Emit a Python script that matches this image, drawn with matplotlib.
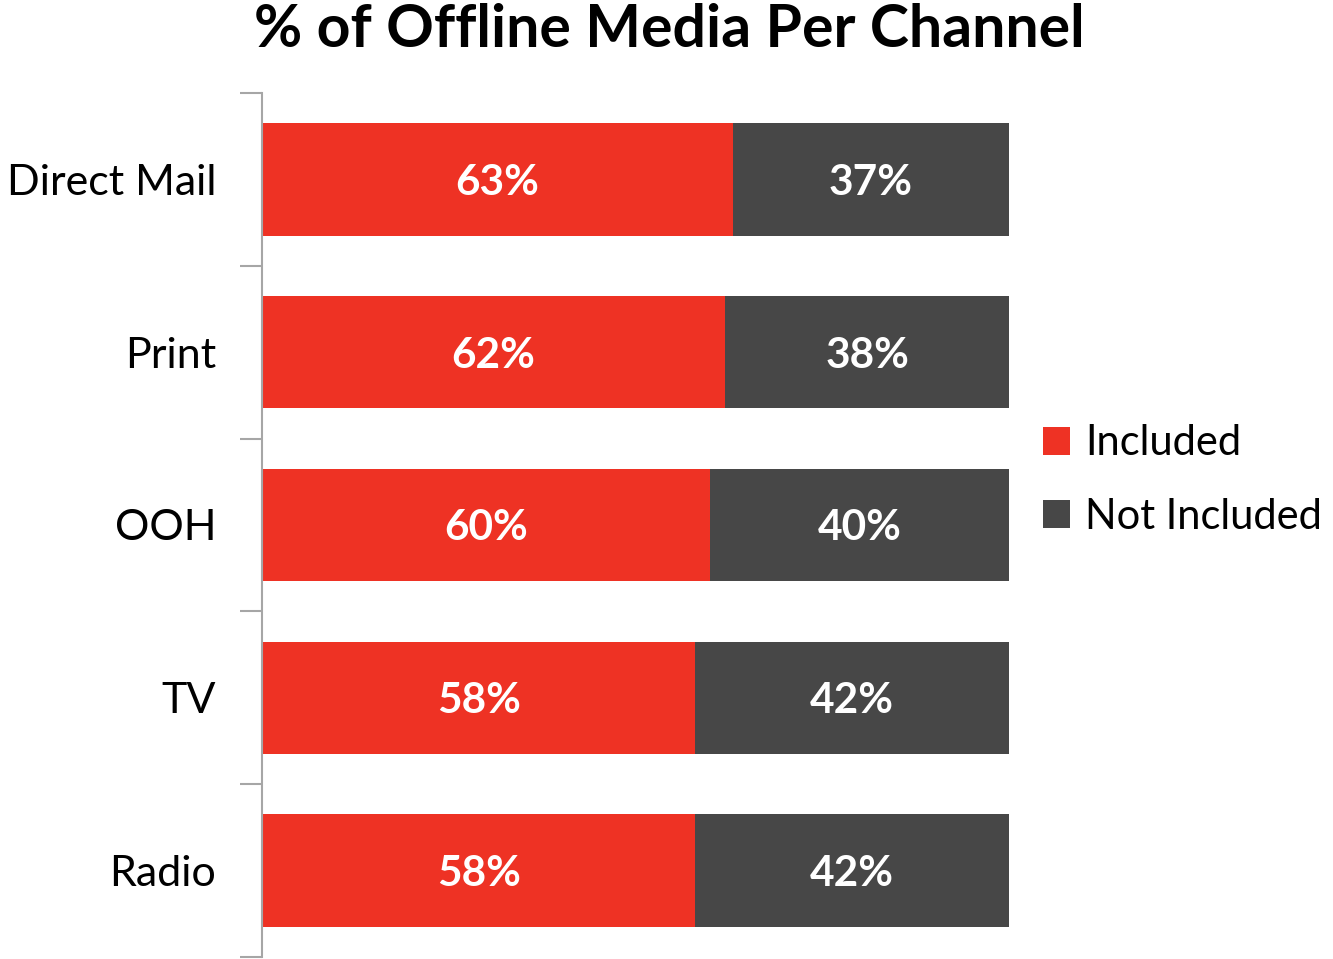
import matplotlib
matplotlib.use("Agg")
import matplotlib.pyplot as plt
from matplotlib.patches import Patch

plt.rcParams['font.family'] = ['Lato', 'DejaVu Sans']

channels = ["Direct Mail", "Print", "OOH", "TV", "Radio"]
included = [63, 62, 60, 58, 58]
not_included = [37, 38, 40, 42, 42]
series_names = ["Included", "Not Included"]

RED = "#EE3224"
DARK = "#474747"
SPINE = "#A6A6A6"

fig = plt.figure(figsize=(13.33, 9.59), dpi=100)
ax = fig.add_axes([262 / 1333, 2 / 959, 747 / 1333, 864 / 959])

y = list(range(len(channels)))
b1 = ax.barh(y, included, height=0.65, color=RED, label=series_names[0])
b2 = ax.barh(y, not_included, left=included, height=0.65, color=DARK, label=series_names[1])

for vals, lefts in ((included, [0] * len(included)), (not_included, included)):
    for yi, v, l in zip(y, vals, lefts):
        ax.text(l + v / 2, yi + 0.02, f"{v}%", ha="center", va="center",
                color="white", fontsize=30.5, fontweight="bold")

ax.set_xlim(0, 100)
ax.set_ylim(len(channels) - 0.5, -0.5)

ax.set_yticks(y)
ax.set_yticklabels(channels, fontsize=31)
ax.tick_params(axis="y", which="major", length=0, pad=33)
ax.set_yticks([i - 0.5 for i in range(len(channels) + 1)], minor=True)
ax.tick_params(axis="y", which="minor", length=16, width=1.5, color=SPINE, direction="out")
ax.set_xticks([])

for s in ("top", "right", "bottom"):
    ax.spines[s].set_visible(False)
ax.spines["left"].set_color(SPINE)
ax.spines["left"].set_linewidth(1.5)

fig.text(669 / 1333, 1 - 30 / 959, "% of Offline Media Per Channel", ha="center", va="center",
         fontsize=42.5, fontweight="bold")

handles = [Patch(facecolor=RED), Patch(facecolor=DARK)]
fig.legend(handles, series_names, loc="center left", bbox_to_anchor=(1043 / 1333, 1 - 480 / 959),
           frameon=False, fontsize=30, handlelength=0.65, handleheight=0.65,
           handletextpad=0.36, labelspacing=0.85, borderaxespad=0, borderpad=0)

fig.savefig("out.png", dpi=100, facecolor="white")
